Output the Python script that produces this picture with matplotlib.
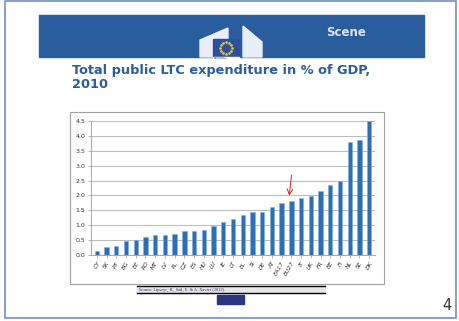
import matplotlib
matplotlib.use("Agg")
import matplotlib.pyplot as plt
import numpy as np
from matplotlib.patches import Rectangle, Polygon

# Public LTC expenditure, % of GDP, 2010
countries = ["CY", "SK", "PT", "BG", "EE", "RO", "MT", "LV", "PL", "CZ", "ES", "HU",
             "LU", "IE", "LT", "EL", "SI", "DE", "AT", "EA17", "EU27", "IT", "UK",
             "FR", "BE", "FI", "NL", "SE", "DK"]
values = [0.15, 0.27, 0.30, 0.47, 0.52, 0.62, 0.66, 0.66, 0.72, 0.82, 0.82, 0.84,
          0.98, 1.12, 1.20, 1.35, 1.43, 1.43, 1.62, 1.76, 1.83, 1.90, 1.98,
          2.15, 2.35, 2.50, 3.80, 3.85, 4.50]
yticks = [0.0, 0.5, 1.0, 1.5, 2.0, 2.5, 3.0, 3.5, 4.0, 4.5]

W, H = 459, 321
fig = plt.figure(figsize=(W / 100, H / 100), dpi=100)
fig.patch.set_facecolor("white")


def box(x0, y0, x1, y1):
    # pixel box (top-left origin) -> figure fraction rect
    return [x0 / W, 1 - y1 / H, (x1 - x0) / W, (y1 - y0) / H]


# canvas layer for slide decoration
bg = fig.add_axes([0, 0, 1, 1])
bg.set_xlim(0, W)
bg.set_ylim(H, 0)
bg.axis("off")

# slide frame
bg.add_patch(Rectangle((5, 1), 451, 317, fill=False, edgecolor="#6f8fc0", lw=1.2))
# banner
bg.add_patch(Rectangle((39, 15), 385, 42, color="#2a5d9e"))
bg.text(346, 33, "Scene", color="#d6e4f5", fontsize=8.5, fontweight="bold",
        ha="center", va="center")

# logo: stylised building + flag
bg.add_patch(Polygon([[200, 40], [228, 28], [228, 57], [200, 57]], color="#e8eef6"))
bg.add_patch(Polygon([[243, 26], [262, 42], [262, 57], [243, 57]], color="#e8eef6"))
bg.add_patch(Rectangle((213, 39), 26, 18, color="#2d4fa0"))
ang = np.linspace(0, 2 * np.pi, 12, endpoint=False)
bg.scatter(226 + 6 * np.cos(ang), 48 + 6 * np.sin(ang), s=0.8, color="#f5d000", zorder=5)
bg.add_patch(Rectangle((213, 57), 26, 6, color="white"))
bg.text(214, 57.2, "European\nCommission", fontsize=1.7, color="#333333", va="top",
        linespacing=0.95)

# title
bg.text(72, 70.5, "Total public LTC expenditure in % of GDP,", color="#2a5d9e",
        fontsize=9.3, fontweight="bold", ha="left", va="center")
bg.text(72, 84, "2010", color="#2a5d9e",
        fontsize=9.3, fontweight="bold", ha="left", va="center")

# chart frame
bg.add_patch(Rectangle((70, 112), 314, 172, fill=False, edgecolor="#a0a0a0", lw=0.8))

# source strip
bg.add_patch(Rectangle((137, 286), 188, 7, color="#e6e6e6"))
bg.plot([137, 325], [286, 286], color="black", lw=1)
bg.plot([137, 325], [293, 293], color="black", lw=1)
bg.text(139, 289.5, "Source: Lipszyc, B., Sail, E. & A. Xavier (2012).", fontsize=3.2,
        family="Liberation Serif", color="#2a2a70", va="center", ha="left")
bg.add_patch(Rectangle((217, 295), 27, 9, color="#2a3585"))

# page number
bg.text(452, 305, "4", fontsize=10.5, color="#333333", ha="right", va="center")

# bar chart
ax = fig.add_axes(box(91, 121, 375, 255))
x = np.arange(len(countries))
ax.bar(x, values, width=0.45, color="#2c6fb5", edgecolor="#7fb0e0", linewidth=0.4, zorder=3)
ax.set_xlim(-0.6, len(countries) - 0.4)
ax.set_ylim(0, 4.5)
ax.set_yticks(yticks)
ax.set_yticklabels([f"{v:.1f}" for v in yticks], fontsize=4.5, color="#333333")
ax.yaxis.grid(True, color="#bdbdbd", lw=0.8, zorder=0)
ax.set_xticks(x)
ax.set_xticklabels(countries, rotation=60, fontsize=4.3, style="italic", color="#333333",
                   ha="right", rotation_mode="anchor")
ax.tick_params(axis="both", length=2, width=0.5, color="#999999", pad=2)
for side in ["top", "right"]:
    ax.spines[side].set_visible(False)
ax.spines["left"].set_color("#999999")
ax.spines["bottom"].set_color("#999999")
ax.spines["left"].set_linewidth(0.6)
ax.spines["bottom"].set_linewidth(0.6)

# red arrow pointing at EU27
eu = countries.index("EU27")
ax.annotate("", xy=(eu - 0.25, values[eu] + 0.07), xytext=(eu + 0.05, values[eu] + 0.95),
            arrowprops=dict(arrowstyle="->", color="#e02020", lw=0.7), zorder=6)

fig.savefig("out.png", dpi=100)
